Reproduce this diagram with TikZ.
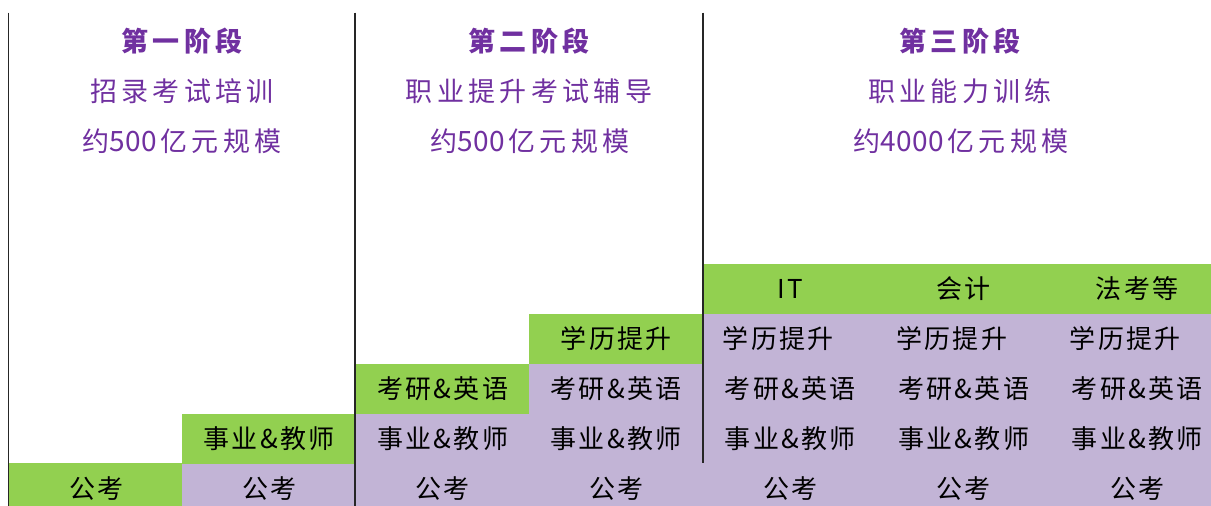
\documentclass[tikz,border=0pt]{standalone}
\usepackage{fontspec}
\setmainfont{Noto Sans CJK SC}[LetterSpace=9]
\newfontfamily\hdfont{Noto Sans CJK SC}[LetterSpace=16]
\newfontfamily\numfont{Noto Sans CJK SC}[LetterSpace=2]
\newcommand{\hnum}[1]{{\numfont\fontsize{28}{28}\selectfont #1}\hspace{3pt}}
\definecolor{cgreen}{HTML}{92D050}
\definecolor{cpurple}{RGB}{194,180,214}
\definecolor{hpurple}{HTML}{7030A0}
\begin{document}
\begin{tikzpicture}[x=1pt,y=-1pt,
  cell/.style={anchor=north west, minimum width=174pt, minimum height=50pt, inner sep=0pt, text=black, font=\fontsize{26}{26}\selectfont},
  gcell/.style={cell, fill=cgreen},
  pcell/.style={cell, fill=cpurple},
  hd/.style={text=hpurple, inner sep=0pt, font=\hdfont\fontsize{27}{27}\selectfont},
  hdb/.style={hd, font=\hdfont\fontsize{27}{27}\selectfont\bfseries},
  vline/.style={draw=black!85, line width=1.2pt}]
\clip (0,0) rectangle (1211,506);
\fill[white] (0,0) rectangle (1211,506);
% row 1 (bottom)
\node[gcell] (a1) at (9,463) {公考};
\node[pcell] (a2) at (182,463) {公考};
\node[pcell] (a3) at (355.5,463) {公考};
\node[pcell] (a4) at (529,463) {公考};
\node[pcell] (a5) at (703,463) {公考};
\node[pcell] (a6) at (876.5,463) {公考};
\node[pcell] (a7) at (1050,463) {公考};
% row 2
\node[gcell] (b2) at (182,413.3) {事业\&教师};
\node[pcell] (b3) at (355.5,413.3) {事业\&教师};
\node[pcell] (b4) at (529,413.3) {事业\&教师};
\node[pcell] (b5) at (703,413.3) {事业\&教师};
\node[pcell] (b6) at (876.5,413.3) {事业\&教师};
\node[pcell] (b7) at (1050,413.3) {事业\&教师};
% row 3
\node[gcell] (c3) at (355.5,363.5) {考研\&英语};
\node[pcell] (c4) at (529,363.5) {考研\&英语};
\node[pcell] (c5) at (703,363.5) {考研\&英语};
\node[pcell] (c6) at (876.5,363.5) {考研\&英语};
\node[pcell] (c7) at (1050,363.5) {考研\&英语};
% row 4
\node[gcell] (d4) at (529,313.5) {学历提升};
\node[pcell] (d5) at (703,313.5) {学历提升\hspace*{24pt}};
\node[pcell] (d6) at (876.5,313.5) {学历提升\hspace*{24pt}};
\node[pcell] (d7) at (1050,313.5) {学历提升\hspace*{24pt}};
% row 5
\node[gcell] (e5) at (703,263.7) {IT};
\node[gcell] (e6) at (876.5,263.7) {会计};
\node[gcell] (e7) at (1050,263.7) {法考等};
% headers
\node[hdb] (h1) at (182,41) {第一阶段};
\node[hd]  (s1) at (182,91) {招录考试培训};
\node[hd]  (m1) at (182,141) {约\hnum{500}亿元规模};
\node[hdb] (h2) at (529,41) {第二阶段};
\node[hd]  (s2) at (529,91) {职业提升考试辅导};
\node[hd]  (m2) at (530,141) {约\hnum{500}亿元规模};
\node[hdb] (h3) at (960,41) {第三阶段};
\node[hd]  (s3) at (960,91) {职业能力训练};
\node[hd]  (m3) at (961,141) {约\hnum{4000}亿元规模};
% vertical separators
\coordinate (t1) at (8.5,12.5); \coordinate (u1) at (8.5,506);
\coordinate (t2) at (355,12.5); \coordinate (u2) at (355,506);
\coordinate (t3) at (703,12.5); \coordinate (u3) at (703,463);
\draw[vline] (t1) -- (u1);
\draw[vline] (t2) -- (u2);
\draw[vline] (t3) -- (u3);
\end{tikzpicture}
\end{document}
